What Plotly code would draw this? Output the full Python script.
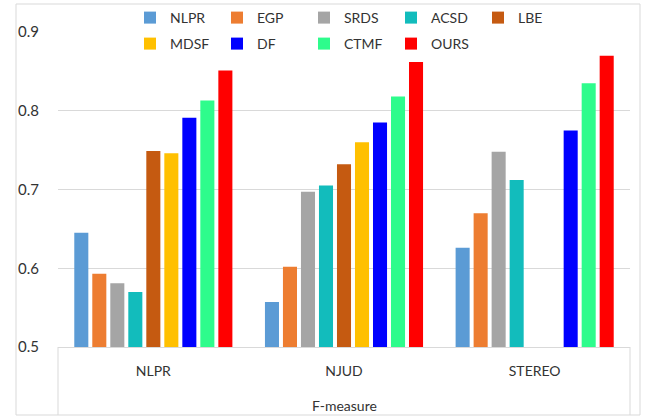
import plotly.graph_objects as go

categories = ["NLPR", "NJUD", "STEREO"]
methods = ["NLPR", "EGP", "SRDS", "ACSD", "LBE", "MDSF", "DF", "CTMF", "OURS"]
vals_NLPR = [0.645, 0.557, 0.626]
vals_EGP = [0.593, 0.602, 0.670]
vals_SRDS = [0.581, 0.697, 0.748]
vals_ACSD = [0.570, 0.705, 0.712]
vals_LBE = [0.749, 0.732, None]
vals_MDSF = [0.746, 0.760, None]
vals_DF = [0.791, 0.785, 0.775]
vals_CTMF = [0.813, 0.818, 0.835]
vals_OURS = [0.851, 0.862, 0.870]
colors = ["#5b9bd5", "#ed7d31", "#a5a5a5", "#12bcbc", "#c55a11",
          "#ffc000", "#0000ff", "#2efc8c", "#ff0000"]
y_ticks = [0.5, 0.6, 0.7, 0.8, 0.9]
axis_title = "F-measure"

series = [vals_NLPR, vals_EGP, vals_SRDS, vals_ACSD, vals_LBE,
          vals_MDSF, vals_DF, vals_CTMF, vals_OURS]

FONT = "Lato, 'Open Sans', sans-serif"
PH = 315.0
PW = 572.0
fig = go.Figure()
for i, (m, v) in enumerate(zip(methods, series)):
    fig.add_trace(go.Bar(
        x=categories, y=v, name=m, marker_color=colors[i],
        marker_line_width=0,
        legend="legend" if i < 5 else "legend2",
    ))

leg_common = dict(orientation="h", xanchor="left", yanchor="top",
                  entrywidth=42, entrywidthmode="pixels", itemwidth=30,
                  font=dict(size=14, color="#333333"),
                  tracegroupgap=0, itemclick=False, borderwidth=0)
fig.update_layout(
    width=647, height=417,
    margin=dict(l=58, r=17, t=32, b=70, autoexpand=False),
    paper_bgcolor="white", plot_bgcolor="white",
    barmode="group", bargap=0.15, bargroupgap=0.22,
    font=dict(family=FONT, size=14, color="#333333"),
    showlegend=True,
    legend=dict(x=(130 - 58) / PW, y=(347 - 2) / PH, bgcolor="rgba(255,255,255,0)", **leg_common),
    legend2=dict(x=(130 - 58) / PW, y=(347 - 28) / PH, bgcolor="white", **leg_common),
    xaxis=dict(showgrid=False, showline=True, linecolor="#d9d9d9", linewidth=1,
               ticks="", ticklabelstandoff=11, tickfont=dict(size=14, color="#333333")),
    yaxis=dict(range=[0.5, 0.9], tickvals=y_ticks, ticktext=[f"{t:.1f}" for t in y_ticks],
               showgrid=True, gridcolor="#d9d9d9", gridwidth=1, zeroline=False,
               showline=False, ticks="", ticklabelstandoff=18,
               tickfont=dict(size=15, color="#333333")),
)

# category axis box and outer chart border
fig.add_shape(type="line", xref="paper", yref="paper", x0=0, x1=0, y0=0, y1=-68 / PH,
              line=dict(color="#d9d9d9", width=1))
fig.add_shape(type="line", xref="paper", yref="paper", x0=1, x1=1, y0=0, y1=-68 / PH,
              line=dict(color="#d9d9d9", width=1))
fig.add_shape(type="rect", xref="paper", yref="paper",
              x0=-42 / PW, x1=1 + 10 / PW, y0=-68 / PH, y1=1 + 28 / PH,
              line=dict(color="#d9d9d9", width=1), layer="below")
fig.add_annotation(text=axis_title, xref="paper", yref="paper", x=0.5, y=-58 / PH,
                   showarrow=False, font=dict(size=14, color="#333333"),
                   xanchor="center", yanchor="middle")

fig.write_html("out.html", config={"displayModeBar": False},
               post_script="document.body.style.margin='0';")
